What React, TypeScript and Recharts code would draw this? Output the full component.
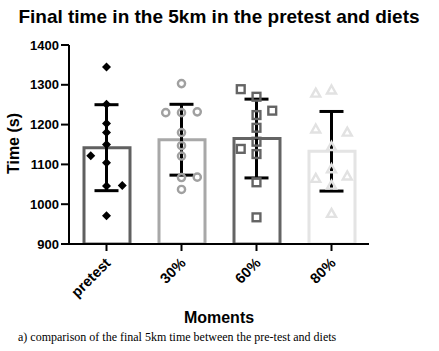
import React from 'react';
import { ComposedChart, Bar, Cell, ErrorBar, Scatter, XAxis, YAxis } from 'recharts';

const categories = ['pretest', '30%', '60%', '80%'];
const means = [1142, 1162, 1165, 1133];
const sds = [108, 89, 99, 100];
const yTicks = [900, 1000, 1100, 1200, 1300, 1400];

const pretestTimes = [1345, 1251, 1203, 1180, 1150, 1122, 1104, 1046, 1047, 971];
const pretestSpread = [0, 0, 0, 0, 0, -1, 0, 0, 1, 0];
const diet30Times = [1303, 1230, 1230, 1232, 1180, 1147, 1121, 1067, 1068, 1037];
const diet30Spread = [0, -1, 0, 1, 0, 0, 0, 0, 1, 0];
const diet60Times = [1289, 1270, 1235, 1224, 1192, 1157, 1139, 1126, 1055, 967];
const diet60Spread = [-1, 0, 1, 0, 0, 0, -1, 0, 0, 0];
const diet80Times = [1279, 1287, 1189, 1181, 1145, 1089, 1065, 1071, 1048, 977];
const diet80Spread = [-1, 0, -1, 1, 0, 0, -1, 1, 0, 0];

const JITTER = 0.21;
const barColors = ['#606060', '#a8a8a8', '#646464', '#e4e4e4'];

const barData = categories.map((name, i) => ({ name, mean: means[i], sd: sds[i] }));
const errData = categories.map((name, i) => ({ x: i, y: means[i], sd: sds[i] }));
const toPoints = (idx: number, times: number[], spread: number[]) =>
  times.map((t, i) => ({ x: idx + spread[i] * JITTER, y: t }));

const pts0 = toPoints(0, pretestTimes, pretestSpread);
const pts1 = toPoints(1, diet30Times, diet30Spread);
const pts2 = toPoints(2, diet60Times, diet60Spread);
const pts3 = toPoints(3, diet80Times, diet80Spread);

const Diamond = (p: any) => (
  <polygon
    points={`${p.cx},${p.cy - 4.5} ${p.cx + 4.5},${p.cy} ${p.cx},${p.cy + 4.5} ${p.cx - 4.5},${p.cy}`}
    fill="#000"
  />
);
const Ring = (p: any) => (
  <circle cx={p.cx} cy={p.cy} r={3.6} fill="none" stroke="#a0a0a0" strokeWidth={2.4} />
);
const Sq = (p: any) => (
  <rect x={p.cx - 3.9} y={p.cy - 3.9} width={7.8} height={7.8} fill="none" stroke="#646464" strokeWidth={2.4} />
);
const Tri = (p: any) => (
  <polygon
    points={`${p.cx},${p.cy - 4.5} ${p.cx + 4.5},${p.cy + 3.5} ${p.cx - 4.5},${p.cy + 3.5}`}
    fill="none"
    stroke="#e2e2e2"
    strokeWidth={2.4}
    strokeLinejoin="miter"
  />
);
const NoShape = () => <g />;

const font = "'Liberation Sans', Arial, sans-serif";

const XTick = (props: any) => {
  const { x, y, payload } = props;
  return (
    <g transform={`translate(${x + 5},${y + 11}) rotate(-45)`}>
      <text x={0} y={0} textAnchor="end" fontFamily={font} fontWeight="bold" fontSize={14.5} fill="#000">
        {payload.value}
      </text>
    </g>
  );
};

export default function App() {
  return (
    <div style={{ position: 'absolute', left: 0, top: 0, width: 439, height: 351, background: '#fff' }}>
      <ComposedChart
        width={439}
        height={351}
        data={barData}
        margin={{ top: 45, right: 70, bottom: 0, left: 0 }}
      >
        <XAxis
          xAxisId="cat"
          dataKey="name"
          type="category"
          axisLine={{ stroke: '#000', strokeWidth: 2 }}
          tickLine={{ stroke: '#000', strokeWidth: 2 }}
          tickSize={7}
          tick={<XTick />}
          interval={0}
          height={107}
        />
        <XAxis xAxisId="num" type="number" dataKey="x" domain={[-0.5, 3.5]} hide allowDataOverflow />
        <YAxis
          type="number"
          domain={[900, 1400]}
          ticks={yTicks}
          width={69}
          axisLine={{ stroke: '#000', strokeWidth: 2 }}
          tickLine={{ stroke: '#000', strokeWidth: 2 }}
          tickSize={8}
          tickMargin={2}
          tick={{ fill: '#000', fontFamily: font, fontWeight: 'bold', fontSize: 13 }}
          allowDataOverflow
        />
        <Bar xAxisId="cat" dataKey="mean" barSize={46} fill="#fff" strokeWidth={3} isAnimationActive={false}>
          {barData.map((d, i) => (
            <Cell key={d.name} stroke={barColors[i]} fill="#fff" />
          ))}
        </Bar>
        <Scatter xAxisId="num" data={pts0} dataKey="y" shape={<Diamond />} isAnimationActive={false} />
        <Scatter xAxisId="num" data={pts1} dataKey="y" shape={<Ring />} isAnimationActive={false} />
        <Scatter xAxisId="num" data={pts2} dataKey="y" shape={<Sq />} isAnimationActive={false} />
        <Scatter xAxisId="num" data={pts3} dataKey="y" shape={<Tri />} isAnimationActive={false} />
        <Scatter xAxisId="num" data={errData} dataKey="y" shape={<NoShape />} isAnimationActive={false}>
          <ErrorBar dataKey="sd" width={12} stroke="#000" strokeWidth={3} direction="y" />
        </Scatter>
      </ComposedChart>
      <svg width={439} height={351} style={{ position: 'absolute', left: 0, top: 0, pointerEvents: 'none' }}>
        <text x={219} y={23} textAnchor="middle" fontFamily={font} fontWeight="bold" fontSize={19} fill="#000">
          Final time in the 5km in the pretest and diets
        </text>
        <text x={18.5} y={143.5} textAnchor="middle" transform="rotate(-90 18.5 143.5)" fontFamily={font} fontWeight="bold" fontSize={16} fill="#000">
          Time (s)
        </text>
        <text x={219} y={323} textAnchor="middle" fontFamily={font} fontWeight="bold" fontSize={16} fill="#000">
          Moments
        </text>
        <text x={18} y={341} fontFamily="'Liberation Serif', 'Times New Roman', serif" fontSize={12} fill="#000">
          a) comparison of the final 5km time between the pre-test and diets
        </text>
      </svg>
    </div>
  );
}
